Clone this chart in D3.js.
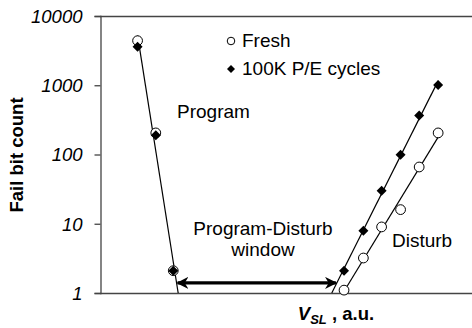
<!DOCTYPE html>
<html>
<head>
<meta charset="utf-8">
<script src="https://cdn.jsdelivr.net/npm/d3@7"></script>
<style>
  body { margin: 0; background: #fff; }
  svg text { font-family: "Liberation Sans", Arial, sans-serif; fill: #000; }
</style>
</head>
<body>
<svg id="chart" width="472" height="328"></svg>
<script>
// V_SL positions (arbitrary units)
var programX = [10.1, 15.0, 19.7];
var disturbX = [65.6, 70.8, 75.7, 80.8, 85.8, 90.9];

// fail bit counts
var freshProgram = [4400, 205, 2.1];
var freshDisturb = [1.1, 3.2, 9, 16, 66, 205];
var cycledProgram = [3600, 190, 2.1];
var cycledDisturb = [2.1, 7.9, 30, 99, 365, 1010];

var yTicks = [1, 10, 100, 1000, 10000];
var seriesNames = ["Fresh", "100K P/E cycles"];
var windowLevel = 1.4; // where the double arrow sits

var svg = d3.select("#chart");
var plotLeft = 100, plotRight = 472, plotTop = 16, plotBottom = 293;

var xScale = d3.scaleLinear().domain([0, 100]).range([plotLeft, plotRight]);
var yScale = d3.scaleLog().domain([1, 10000]).range([plotBottom, plotTop]);

// exponential trendline: log10(y) = a + b*x
function fit(xs, ys) {
  var ly = ys.map(function (v) { return Math.log10(v); });
  var mx = d3.mean(xs), my = d3.mean(ly);
  var sxy = d3.sum(xs, function (x, i) { return (x - mx) * (ly[i] - my); });
  var sxx = d3.sum(xs, function (x) { return (x - mx) * (x - mx); });
  var b = sxy / sxx;
  return { a: my - b * mx, b: b };
}
function xAt(f, v) { return (Math.log10(v) - f.a) / f.b; }
function valAt(f, x) { return Math.pow(10, f.a + f.b * x); }

var progFit = fit(programX.concat(programX), freshProgram.concat(cycledProgram));
var freshFit = fit(disturbX, freshDisturb);
var cycledFit = fit(disturbX, cycledDisturb);

var trendlines = [
  { f: progFit, x0: d3.min(programX), x1: xAt(progFit, 1) },
  { f: freshFit, x0: xAt(freshFit, 1), x1: d3.max(disturbX) },
  { f: cycledFit, x0: xAt(cycledFit, 1), x1: d3.max(disturbX) }
];

var axisColor = "#444";

// top frame line
svg.append("line")
  .attr("x1", plotLeft).attr("x2", plotRight)
  .attr("y1", plotTop + 0.5).attr("y2", plotTop + 0.5)
  .attr("stroke", axisColor).attr("stroke-width", 1.3);

// bottom axis line (no ticks)
svg.append("line")
  .attr("x1", plotLeft).attr("x2", plotRight)
  .attr("y1", plotBottom + 0.5).attr("y2", plotBottom + 0.5)
  .attr("stroke", axisColor).attr("stroke-width", 1.3);

var yAxis = d3.axisLeft(yScale)
  .tickValues(yTicks)
  .tickFormat(d3.format("d"))
  .tickSize(6)
  .tickPadding(12);

var gy = svg.append("g")
  .attr("transform", "translate(" + (plotLeft + 0.5) + ",0)")
  .call(yAxis);
gy.select(".domain").attr("stroke", axisColor).attr("stroke-width", 1.3);
gy.selectAll(".tick line").attr("stroke", axisColor).attr("stroke-width", 1.3);
gy.selectAll(".tick text")
  .attr("font-size", "18.5px")
  .attr("font-style", "italic")
  .attr("font-family", "Liberation Sans, Arial, sans-serif")
  .attr("fill", "#000")
  .attr("dy", "0.35em");

// trendlines
svg.selectAll(".trend")
  .data(trendlines)
  .enter()
  .append("line")
  .attr("class", "trend")
  .attr("x1", function (d) { return xScale(d.x0); })
  .attr("y1", function (d) { return yScale(valAt(d.f, d.x0)); })
  .attr("x2", function (d) { return xScale(d.x1); })
  .attr("y2", function (d) { return yScale(valAt(d.f, d.x1)); })
  .attr("stroke", "#000")
  .attr("stroke-width", 1.2);

var circle = d3.symbol().type(d3.symbolCircle).size(75);
var diamond = d3.symbol().type(d3.symbolSquare).size(50);

var xs = programX.concat(disturbX);
var freshPts = xs.map(function (x, i) { return [x, freshProgram.concat(freshDisturb)[i]]; });
var cycledPts = xs.map(function (x, i) { return [x, cycledProgram.concat(cycledDisturb)[i]]; });

svg.selectAll(".fresh")
  .data(freshPts)
  .enter()
  .append("path")
  .attr("class", "fresh")
  .attr("d", circle)
  .attr("transform", function (d) { return "translate(" + xScale(d[0]) + "," + yScale(d[1]) + ")"; })
  .attr("fill", "#fff")
  .attr("stroke", "#000")
  .attr("stroke-width", 1);

svg.selectAll(".cycled")
  .data(cycledPts)
  .enter()
  .append("path")
  .attr("class", "cycled")
  .attr("d", diamond)
  .attr("transform", function (d) { return "translate(" + xScale(d[0]) + "," + yScale(d[1]) + ") rotate(45)"; })
  .attr("fill", "#000");

// program-disturb window arrow
var defs = svg.append("defs");
defs.append("marker")
  .attr("id", "head")
  .attr("viewBox", "0 0 10 10")
  .attr("refX", 9).attr("refY", 5)
  .attr("markerUnits", "userSpaceOnUse")
  .attr("markerWidth", 12).attr("markerHeight", 12)
  .attr("orient", "auto-start-reverse")
  .append("path")
  .attr("d", "M0,0 L10,5 L0,10 L3,5 Z")
  .attr("fill", "#000");

var ay = yScale(windowLevel);
svg.append("line")
  .attr("x1", xScale(xAt(progFit, windowLevel)) + 1)
  .attr("x2", xScale(xAt(cycledFit, windowLevel)) - 1)
  .attr("y1", ay).attr("y2", ay)
  .attr("stroke", "#000")
  .attr("stroke-width", 3.2)
  .attr("marker-start", "url(#head)")
  .attr("marker-end", "url(#head)");

// legend
var legend = svg.append("g").attr("transform", "translate(231,0)");
legend.append("path").attr("d", d3.symbol().type(d3.symbolCircle).size(45))
  .attr("transform", "translate(0,41)")
  .attr("fill", "#fff").attr("stroke", "#000").attr("stroke-width", 1);
legend.append("path").attr("d", d3.symbol().type(d3.symbolSquare).size(32))
  .attr("transform", "translate(0,69) rotate(45)")
  .attr("fill", "#000");
legend.selectAll("text")
  .data(seriesNames)
  .enter()
  .append("text")
  .attr("x", 11)
  .attr("y", function (d, i) { return 47 + i * 28; })
  .attr("font-size", "19px")
  .text(function (d) { return d; });

// annotations
svg.append("text").attr("x", 177).attr("y", 118).attr("font-size", "19px").text("Program");
svg.append("text").attr("x", 263).attr("y", 235).attr("font-size", "19px")
  .attr("text-anchor", "middle").text("Program-Disturb");
svg.append("text").attr("x", 263).attr("y", 256).attr("font-size", "19px")
  .attr("text-anchor", "middle").text("window");
svg.append("text").attr("x", 392).attr("y", 247).attr("font-size", "19px").text("Disturb");

// axis titles
svg.append("text")
  .attr("transform", "translate(23,155) rotate(-90)")
  .attr("text-anchor", "middle")
  .attr("font-size", "18.5px")
  .attr("font-weight", "bold")
  .text("Fail bit count");

var xt = svg.append("text")
  .attr("x", 336).attr("y", 320)
  .attr("text-anchor", "middle")
  .attr("font-size", "18.5px")
  .attr("font-weight", "bold");
xt.append("tspan").attr("font-style", "italic").text("V");
xt.append("tspan").attr("font-style", "italic").attr("font-size", "13px").attr("dy", 4).text("SL");
xt.append("tspan").attr("dy", -4).text(" , a.u.");
</script>
</body>
</html>
